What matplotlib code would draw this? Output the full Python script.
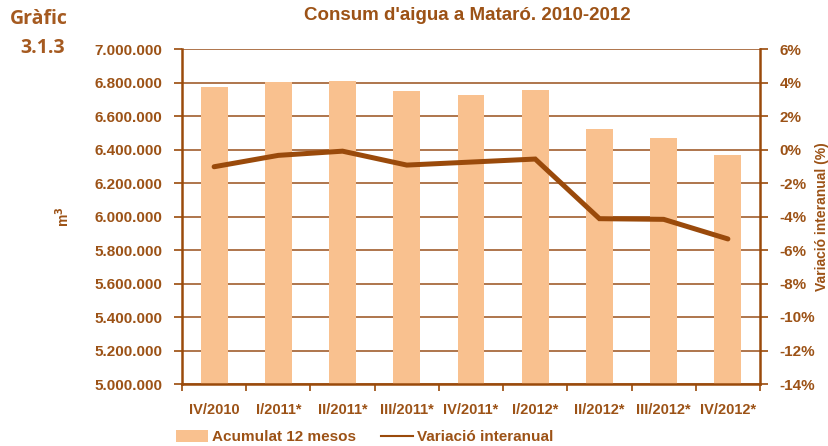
#!/usr/bin/env python3
"""Consum d'aigua a Mataró 2010-2012: bars (12-month total) + yearly variation line."""

import matplotlib
matplotlib.use("Agg")
import matplotlib.pyplot as plt
from matplotlib.patches import Patch
from matplotlib.lines import Line2D
from matplotlib.ticker import FuncFormatter

quarters = ["IV/2010", "I/2011*", "II/2011*", "III/2011*", "IV/2011*",
            "I/2012*", "II/2012*", "III/2012*", "IV/2012*"]
acumulat = [6773000, 6803000, 6809000, 6749000, 6725000,
            6755000, 6522000, 6469000, 6367000]
variacio = [-1.03, -0.35, -0.1, -0.93, -0.75, -0.57, -4.13, -4.17, -5.34]

BROWN = "#9a4a0b"
TEXT = "#9c5216"
GRID = "#a86a3e"
BAR = "#f9c18f"

plt.rcParams["font.family"] = ["Liberation Sans", "DejaVu Sans"]
plt.rcParams["font.weight"] = "bold"

fig = plt.figure(figsize=(8.29, 4.46), dpi=100)
ax = fig.add_axes([182 / 829, 1 - 384 / 446, 578 / 829, 335 / 446])
ax2 = ax.twinx()

x = list(range(len(quarters)))
ax.bar(x, acumulat, width=0.42, color=BAR, zorder=2)
ax.set_ylim(5000000, 7000000)
ax.set_xlim(-0.5, len(quarters) - 0.5)
ax.set_yticks(range(5000000, 7000001, 200000))
ax.yaxis.set_major_formatter(FuncFormatter(lambda v, _: f"{int(v):,}".replace(",", ".")))
ax.grid(axis="y", color=GRID, linewidth=1.3, zorder=1)
ax.set_axisbelow(True)

ax2.plot(x, variacio, color=BROWN, linewidth=3.6, solid_capstyle="round",
         solid_joinstyle="miter", zorder=3)
ax2.set_ylim(-14, 6)
ax2.set_yticks(range(-14, 7, 2))
ax2.yaxis.set_major_formatter(FuncFormatter(lambda v, _: f"{int(v)}%"))

ax.set_xticks([i + 0.5 for i in range(-1, len(quarters))], minor=False)
ax.set_xticklabels([])
ax.set_xticks(x, minor=True)
ax.set_xticklabels(quarters, minor=True)
ax.tick_params(axis="x", which="minor", length=0, pad=14, labelsize=10.5,
               labelcolor=TEXT)
ax.tick_params(axis="x", which="major", length=5, direction="out",
               color=BROWN, width=1.2)
ax.tick_params(axis="y", length=6, direction="out", color=BROWN, width=1.2,
               labelsize=11, labelcolor=TEXT, pad=8)
ax2.tick_params(axis="y", length=6, direction="out", color=BROWN, width=1.2,
                labelsize=11, labelcolor=TEXT, pad=8)

for a in (ax, ax2):
    for s in a.spines.values():
        s.set_visible(False)
ax.spines["left"].set_visible(True)
ax.spines["bottom"].set_visible(True)
ax2.spines["right"].set_visible(True)
for s in (ax.spines["left"], ax.spines["bottom"], ax2.spines["right"]):
    s.set_color(BROWN)
    s.set_linewidth(1.8)

ax.set_ylabel("m$^3$", color=TEXT, fontsize=10, fontweight="bold", labelpad=16)
ax2.set_ylabel("Variació interanual (%)", color=TEXT, fontsize=10,
               fontweight="bold", labelpad=0)

fig.text(0.564, 0.966, "Consum d'aigua a Mataró. 2010-2012", ha="center", va="center",
         color=TEXT, fontsize=13.5, fontweight="bold")
fig.text(0.047, 0.958, "Gràfic", ha="center", va="center", color="#a55a20",
         fontsize=14, fontweight="bold", family=["Open Sans", "DejaVu Sans"])
fig.text(0.051, 0.892, "3.1.3", ha="center", va="center", color="#a55a20",
         fontsize=14, fontweight="bold", family=["Open Sans", "DejaVu Sans"])

handles = [Patch(facecolor=BAR, edgecolor="none", label="Acumulat 12 mesos"),
           Line2D([0], [0], color=BROWN, linewidth=1.5, label="Variació interanual")]
leg = fig.legend(handles=handles, loc="center", bbox_to_anchor=(0.44, 0.02), ncol=2,
                 frameon=False, fontsize=11, handlelength=2.1, handleheight=0.9,
                 columnspacing=1.6, handletextpad=0.3)
for t in leg.get_texts():
    t.set_color(TEXT)

fig.savefig("out.png", dpi=100)
